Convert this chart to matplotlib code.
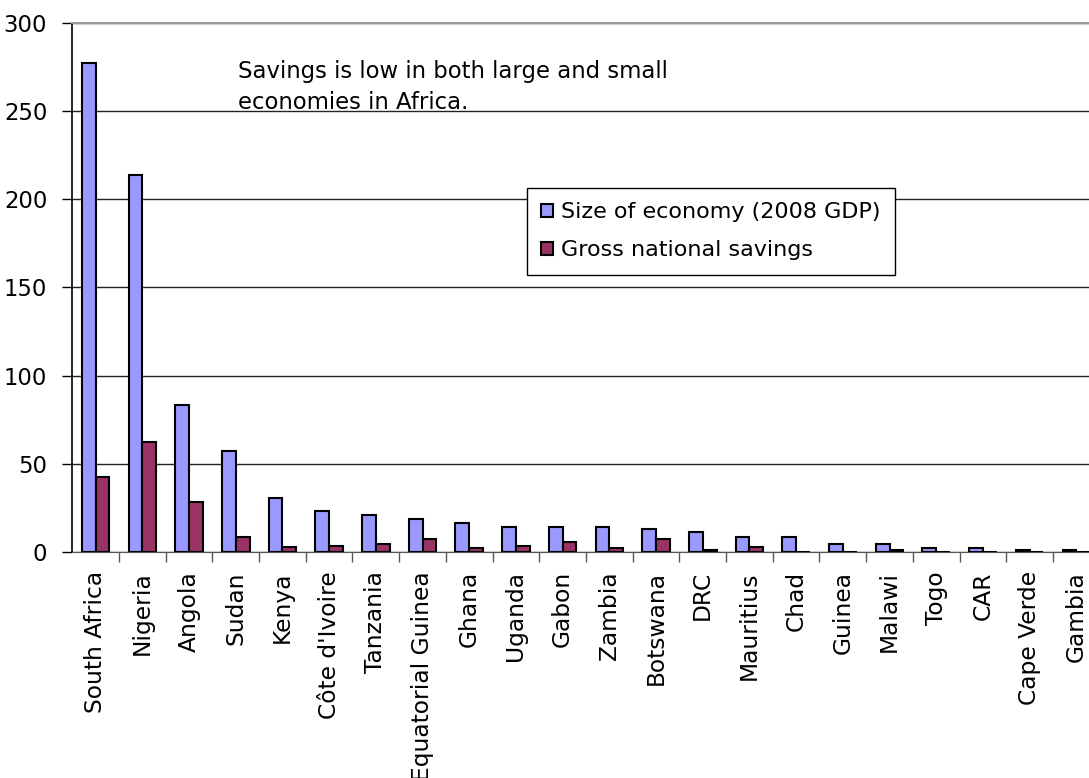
import numpy as np
import matplotlib.pyplot as plt

countries = ["South Africa", "Nigeria", "Angola", "Sudan", "Kenya", "Côte d'Ivoire",
             "Tanzania", "Equatorial Guinea", "Ghana", "Uganda", "Gabon", "Zambia",
             "Botswana", "DRC", "Mauritius", "Chad", "Guinea", "Malawi", "Togo", "CAR",
             "Cape Verde", "Gambia"]
gdp = [277.6, 213.9, 83.3, 57.3, 30.3, 23.3, 20.8, 18.6, 16.1, 13.9, 13.9, 13.9,
       12.7, 11.4, 8.2, 8.2, 4.4, 4.4, 2.3, 2.3, 1.0, 0.8]
savings = [42.3, 62.1, 28.0, 8.2, 2.4, 3.4, 4.4, 7.2, 2.3, 3.4, 5.7, 2.3,
           7.2, 0.8, 2.4, 0.0, 0.0, 0.8, 0.0, 0.0, 0.0, 0.0]

plt.rcParams['font.family'] = ['DejaVu Sans']
fs = 16.4

fig = plt.figure(figsize=(10.89, 7.78), dpi=100)
ax = fig.add_axes([0.0664, 0.2909, 0.9434, 0.6792])

x = np.arange(len(countries))
w = 0.295
ax.bar(x - w/2, gdp, w, color='#9999ff', edgecolor='black', linewidth=1.5,
       label='Size of economy (2008 GDP)', zorder=3)
ax.bar(x + w/2, savings, w, color='#993366', edgecolor='black', linewidth=1.5,
       label='Gross national savings', zorder=3)

ax.set_xlim(-0.5, len(countries) - 0.5)
ax.set_ylim(0, 300)
ax.set_yticks(range(0, 301, 50))
ax.yaxis.grid(True, color='#222222', linewidth=1)
ax.set_axisbelow(True)

ax.set_xticks(x)
ax.set_xticklabels(countries, rotation=90, fontsize=16.8)
ax.set_xticks(x[:-1] + 0.5, minor=True)
ax.tick_params(axis='x', which='major', length=0, pad=14)
ax.tick_params(axis='x', which='minor', length=7, width=1, color='#555555')
ax.tick_params(axis='y', length=7, width=1, labelsize=fs, pad=11)

ax.spines['right'].set_visible(False)
ax.spines['top'].set_color('#999999')
ax.spines['top'].set_linewidth(1.5)
ax.spines['left'].set_linewidth(1.2)
ax.spines['bottom'].set_color('#555555')

fig.text(238/1089, 1 - 60/778,
         "Savings is low in both large and small\neconomies in Africa.",
         fontsize=fs, va='top', ha='left', linespacing=1.45)

leg = ax.legend(loc='upper left', bbox_to_anchor=(527/1089, 1 - 188/778),
                bbox_transform=fig.transFigure, fontsize=16, frameon=True,
                fancybox=False, framealpha=1, edgecolor='black',
                handlelength=0.5, handleheight=0.5, handletextpad=0.4,
                borderpad=0.65, labelspacing=0.8, borderaxespad=0)
leg.get_frame().set_linewidth(1)

fig.savefig('out.png', dpi=100)
